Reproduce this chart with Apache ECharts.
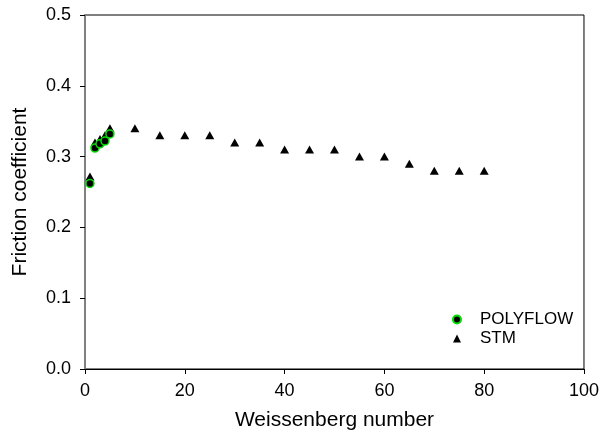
<!DOCTYPE html>
<html>
<head>
<meta charset="utf-8">
<script src="https://cdn.jsdelivr.net/npm/echarts@6/dist/echarts.min.js"></script>
<style>
  html, body { margin: 0; padding: 0; background: #fff; }
  #chart { width: 602px; height: 441px; }
</style>
</head>
<body>
<div id="chart"></div>
<script>
// POLYFLOW (circles) and STM (triangles)
const polyWi = [1, 2, 3, 4, 5];
const polyF = [0.262, 0.312, 0.318, 0.322, 0.332];
const stmWi = [1, 2, 3, 4, 5, 10, 15, 20, 25, 30, 35, 40, 45, 50, 55, 60, 65, 70, 75, 80];
const stmF = [0.272, 0.32, 0.325, 0.33, 0.34, 0.34, 0.33, 0.33, 0.33, 0.32, 0.32, 0.31, 0.31, 0.31, 0.30, 0.30, 0.29, 0.28, 0.28, 0.28];

const font = 'Liberation Sans, Arial, sans-serif';
const chart = echarts.init(document.getElementById('chart'));
chart.setOption({
  animation: false,
  backgroundColor: '#fff',
  grid: { left: 85, right: 18, top: 15, bottom: 72, show: true, borderColor: '#000', borderWidth: 1 },
  legend: {
    orient: 'vertical', left: 447, top: 305, itemWidth: 8, itemHeight: 8, itemGap: 0,
    textStyle: { fontFamily: font, fontSize: 17, lineHeight: 19, color: '#000', padding: [0, 0, 0, 14] },
    data: ['POLYFLOW', 'STM']
  },
  xAxis: {
    type: 'value', min: 0, max: 100, interval: 20,
    name: 'Weissenberg number', nameLocation: 'middle', nameGap: 41,
    nameTextStyle: { fontFamily: font, fontSize: 21, color: '#000' },
    axisLine: { lineStyle: { color: '#000', width: 1 } },
    axisTick: { inside: false, length: 5, lineStyle: { color: '#000' } },
    axisLabel: { fontFamily: font, fontSize: 18, color: '#000', margin: 13 },
    splitLine: { show: false }
  },
  yAxis: {
    type: 'value', min: 0, max: 0.5, interval: 0.1,
    name: 'Friction coefficient', nameLocation: 'middle', nameGap: 54, nameRotate: 90,
    nameTextStyle: { fontFamily: font, fontSize: 21, color: '#000' },
    axisLine: { lineStyle: { color: '#808080', width: 2 } },
    axisTick: { inside: false, length: 5, lineStyle: { color: '#000' } },
    axisLabel: { fontFamily: font, fontSize: 18, color: '#000', margin: 14, formatter: v => v.toFixed(1) },
    splitLine: { show: false }
  },
  series: [
    {
      name: 'STM', type: 'scatter', symbol: 'triangle', symbolSize: [9, 8],
      itemStyle: { color: '#000', opacity: 1 },
      data: stmWi.map((w, i) => [w, stmF[i]]), z: 2
    },
    {
      name: 'POLYFLOW', type: 'scatter', symbol: 'circle', symbolSize: 8,
      itemStyle: { color: '#000', borderColor: '#00e000', borderWidth: 1.5, opacity: 1 },
      data: polyWi.map((w, i) => [w, polyF[i]]), z: 3
    }
  ]
});
</script>
</body>
</html>
